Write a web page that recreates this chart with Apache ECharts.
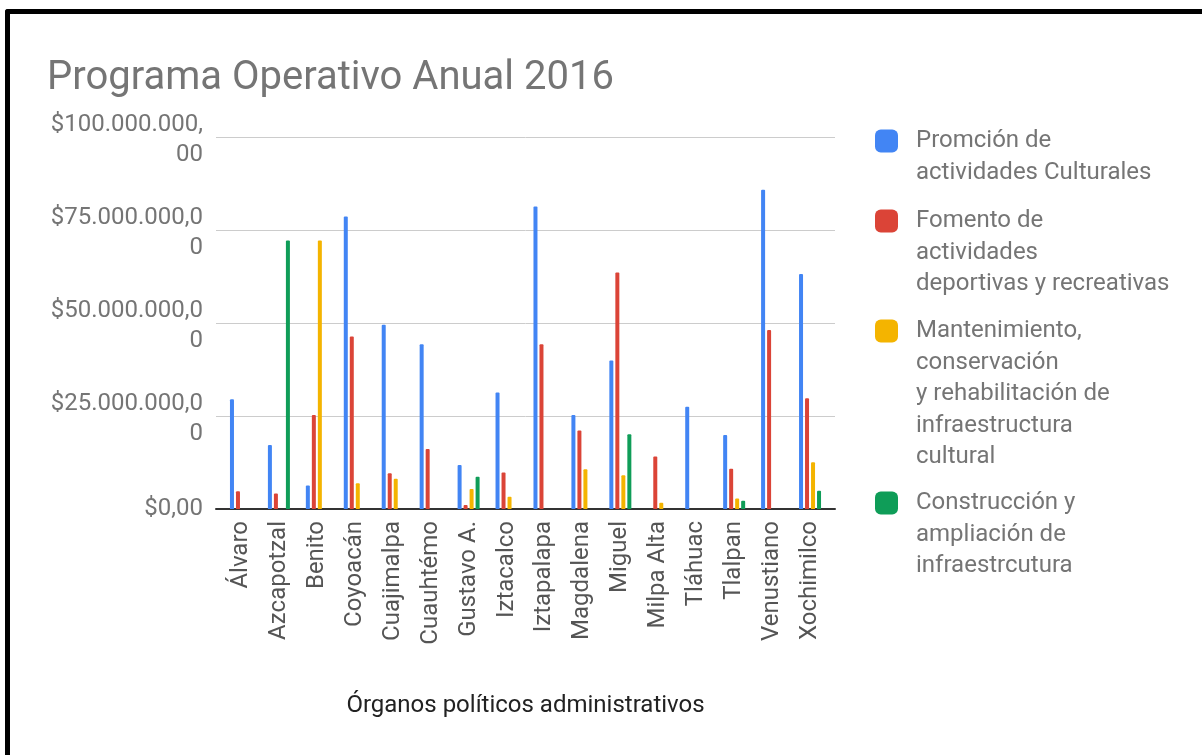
<!DOCTYPE html>
<html>
<head>
<meta charset="utf-8">
<script src="https://cdn.jsdelivr.net/npm/echarts@6/dist/echarts.min.js"></script>
<style>
  html, body { margin: 0; padding: 0; background: #fff; overflow: hidden; }
  #chart { position: absolute; left: 0; top: 0; width: 1202px; height: 755px; }
  #frame { position: absolute; left: 5px; top: 9px; width: 1300px; height: 900px;
           border-left: 5px solid #000; border-top: 5px solid #000; border-top-left-radius: 3px;
           pointer-events: none; box-sizing: border-box; }
</style>
</head>
<body>
<div id="chart"></div>
<div id="frame"></div>
<script>
const categories = ['Álvaro', 'Azcapotzal', 'Benito', 'Coyoacán', 'Cuajimalpa', 'Cuauhtémo',
  'Gustavo A.', 'Iztacalco', 'Iztapalapa', 'Magdalena', 'Miguel', 'Milpa Alta',
  'Tláhuac', 'Tlalpan', 'Venustiano', 'Xochimilco'];

const seriesNames = [
  'Promción de actividades Culturales',
  'Fomento de actividades deportivas y recreativas',
  'Mantenimiento, conservación y rehabilitación de infraestructura cultural',
  'Construcción y ampliación de infraestrcutura'
];
const legendLabels = [
  'Promción de\nactividades Culturales',
  'Fomento de\nactividades\ndeportivas y recreativas',
  'Mantenimiento,\nconservación\ny rehabilitación de\ninfraestructura\ncultural',
  'Construcción y\nampliación de\ninfraestrcutura'
];

const culturales = [29500000, 17200000, 6300000, 78600000, 49500000, 44300000, 11800000, 31300000,
  81300000, 25300000, 39900000, 0, 27500000, 19900000, 85800000, 63200000];
const deportivas = [4800000, 4200000, 25300000, 46400000, 9600000, 16100000, 1100000, 9800000,
  44300000, 21100000, 63600000, 14100000, 0, 10800000, 48100000, 29800000];
const mantenimiento = [0, 0, 72200000, 6900000, 8100000, 0, 5400000, 3300000,
  0, 10700000, 9100000, 1700000, 0, 2800000, 0, 12600000];
const construccion = [0, 72200000, 0, 0, 0, 0, 8700000, 0,
  0, 0, 20100000, 0, 0, 2200000, 0, 4900000];

const yTickValues = [0, 25000000, 50000000, 75000000, 100000000];
const yTickLabels = ['$0,00', '$25.000.000,0\n0', '$50.000.000,0\n0', '$75.000.000,0\n0', '$100.000.000,\n00'];

const colors = ['#4285F4', '#DB4437', '#F4B400', '#0F9D58'];
const FONT = 'Roboto';

const chart = echarts.init(document.getElementById('chart'), null, { renderer: 'canvas' });

const LH = 31.5;
const legendCenters = [141, 221, 331, 503];
const legends = legendLabels.map((lbl, i) => {
  const n = lbl.split('\n').length;
  // prepend blank lines so that the first text line sits level with the icon
  const shown = '\n'.repeat(n - 1) + lbl;
  return {
    orient: 'vertical',
    left: 875,
    top: legendCenters[i] - (2 * n - 1) * LH / 2,
    padding: 0,
    itemWidth: 23,
    itemHeight: 23,
    icon: 'roundRect',
    data: [{ name: seriesNames[i] }],
    formatter: () => shown,
    textStyle: {
      fontFamily: FONT, fontSize: 24, color: '#757575', lineHeight: LH,
      padding: [0, 0, 0, 13]
    }
  };
});

function yLabel(v) {
  const k = yTickValues.indexOf(v);
  if (k < 0) return '';
  const parts = yTickLabels[k].split('\n');
  if (parts.length === 1) return '{t|' + parts[0] + '}';
  return '{s|}\n' + parts.map(p => '{t|' + p + '}').join('\n');
}

const option = {
  animation: false,
  color: colors,
  textStyle: { fontFamily: FONT },
  title: {
    text: 'Programa Operativo Anual 2016',
    left: 47, top: 59, padding: 0,
    textStyle: { fontFamily: FONT, fontSize: 40, fontWeight: 'normal', color: '#757575' }
  },
  legend: legends,
  grid: [
    { left: 216, right: 367, top: 137, bottom: 246 },
    { left: 222, width: 607, top: 137, bottom: 246 }
  ],
  xAxis: [
    {
      gridIndex: 0, type: 'value', min: 0, max: 1,
      axisLine: { show: true, onZero: false, lineStyle: { color: '#333', width: 2 } },
      axisTick: { show: false }, axisLabel: { show: false }, splitLine: { show: false }
    },
    {
      gridIndex: 1, type: 'category', data: categories,
      axisLine: { show: false }, axisTick: { show: false },
      axisLabel: { rotate: 90, margin: 12, fontFamily: FONT, fontSize: 24, color: '#555', interval: 0 },
      name: 'Órganos políticos administrativos',
      nameLocation: 'middle', nameGap: 185,
      nameTextStyle: { fontFamily: FONT, fontSize: 24, color: '#222' }
    }
  ],
  yAxis: [
    {
      gridIndex: 0, type: 'value', min: 0, max: 100000000, interval: 25000000,
      axisLine: { show: false }, axisTick: { show: false },
      splitLine: { show: true, lineStyle: { color: '#cccccc', width: 1 } },
      axisLabel: {
        margin: 13, align: 'right',
        formatter: yLabel,
        rich: {
          t: { fontFamily: FONT, fontSize: 24, color: '#757575', lineHeight: 30, align: 'right' },
          s: { fontSize: 1, lineHeight: 6 }
        }
      }
    },
    {
      gridIndex: 1, type: 'value', min: 0, max: 100000000, interval: 25000000, show: false,
      splitLine: { show: false }
    }
  ],
  series: [culturales, deportivas, mantenimiento, construccion].map((d, i) => ({
    name: seriesNames[i],
    type: 'bar',
    xAxisIndex: 1, yAxisIndex: 1,
    data: d,
    barWidth: 4,
    barGap: '50%',
    itemStyle: { color: colors[i], borderRadius: [1, 1, 0, 0] }
  }))
};

chart.setOption(option);
</script>
</body>
</html>
